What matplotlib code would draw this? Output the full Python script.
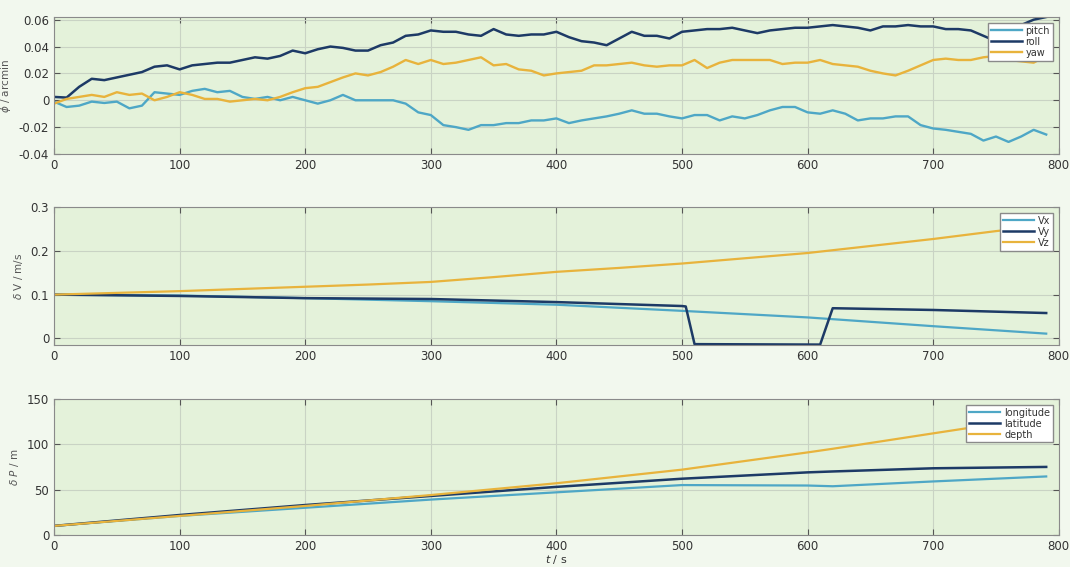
import matplotlib.pyplot as plt

plt.rcParams['axes.unicode_minus'] = False
plt.rcParams['font.family'] = 'DejaVu Sans'

# ---- attitude error (arcmin), sampled every 10 s ----
t_att = list(range(0, 800, 10))
pitch = [-0.001, -0.005, -0.004, -0.001, -0.002, -0.001, -0.006, -0.004, 0.006, 0.005,
         0.004, 0.007, 0.0085, 0.006, 0.007, 0.0025, 0.001, 0.0025, 0.0, 0.0025,
         0.0, -0.0025, 0.0, 0.004, 0.0, 0.0, 0.0, 0.0, -0.0025, -0.009,
         -0.011, -0.0185, -0.02, -0.022, -0.0185, -0.0185, -0.017, -0.017, -0.015, -0.015,
         -0.0135, -0.017, -0.015, -0.0135, -0.012, -0.01, -0.0075, -0.01, -0.01, -0.012,
         -0.0135, -0.011, -0.011, -0.015, -0.012, -0.0135, -0.011, -0.0075, -0.005, -0.005,
         -0.009, -0.01, -0.0075, -0.01, -0.015, -0.0135, -0.0135, -0.012, -0.012, -0.0185,
         -0.021, -0.022, -0.0235, -0.025, -0.03, -0.027, -0.031, -0.027, -0.022, -0.0255]
roll = [0.0025, 0.002, 0.01, 0.016, 0.015, 0.017, 0.019, 0.021, 0.025, 0.026,
        0.023, 0.026, 0.027, 0.028, 0.028, 0.03, 0.032, 0.031, 0.033, 0.037,
        0.035, 0.038, 0.04, 0.039, 0.037, 0.037, 0.041, 0.043, 0.048, 0.049,
        0.052, 0.051, 0.051, 0.049, 0.048, 0.053, 0.049, 0.048, 0.049, 0.049,
        0.051, 0.047, 0.044, 0.043, 0.041, 0.046, 0.051, 0.048, 0.048, 0.046,
        0.051, 0.052, 0.053, 0.053, 0.054, 0.052, 0.05, 0.052, 0.053, 0.054,
        0.054, 0.055, 0.056, 0.055, 0.054, 0.052, 0.055, 0.055, 0.056, 0.055,
        0.055, 0.053, 0.053, 0.052, 0.048, 0.044, 0.046, 0.056, 0.06, 0.062]
yaw = [-0.0025, 0.001, 0.0025, 0.004, 0.0025, 0.006, 0.004, 0.005, 0.0, 0.0025,
       0.006, 0.004, 0.001, 0.001, -0.001, 0.0, 0.001, 0.0, 0.0025, 0.006,
       0.009, 0.01, 0.0135, 0.017, 0.02, 0.0185, 0.021, 0.025, 0.03, 0.027,
       0.03, 0.027, 0.028, 0.03, 0.032, 0.026, 0.027, 0.023, 0.022, 0.0185,
       0.02, 0.021, 0.022, 0.026, 0.026, 0.027, 0.028, 0.026, 0.025, 0.026,
       0.026, 0.03, 0.024, 0.028, 0.03, 0.03, 0.03, 0.03, 0.027, 0.028,
       0.028, 0.03, 0.027, 0.026, 0.025, 0.022, 0.02, 0.0185, 0.022, 0.026,
       0.03, 0.031, 0.03, 0.03, 0.032, 0.033, 0.03, 0.029, 0.028, 0.033]

# ---- velocity error (m/s) ----
t_vx = [0, 100, 200, 300, 400, 500, 600, 700, 790]
vx = [0.1, 0.098, 0.092, 0.085, 0.077, 0.063, 0.048, 0.028, 0.011]
t_vy = [0, 100, 200, 300, 400, 500, 503, 510, 610, 620, 700, 790]
vy = [0.1, 0.097, 0.092, 0.09, 0.083, 0.074, 0.073, -0.013, -0.014, 0.069, 0.065, 0.058]
t_vz = [0, 50, 100, 150, 200, 250, 300, 350, 400, 450, 500, 550, 600, 650, 700, 750, 790]
vz = [0.1, 0.104, 0.108, 0.113, 0.118, 0.123, 0.129, 0.14, 0.152, 0.161, 0.171,
      0.183, 0.195, 0.211, 0.227, 0.245, 0.258]

# ---- position error (m) ----
t_pos = [0, 100, 200, 300, 400, 500, 600, 620, 700, 790]
longitude = [10, 21, 30, 39, 47, 55, 54.5, 53.7, 59, 64.5]
latitude = [10, 22, 33, 43, 53, 62, 69, 70, 73.5, 75]
depth = [10, 21, 32, 44, 57, 72, 91, 95, 112, 131]

c_light = '#4ea7c6'
c_dark = '#1d3a66'
c_gold = '#e8b33c'
fig_bg = '#f2f8ee'
ax_bg = '#e4f2da'

fig = plt.figure(figsize=(10.7, 5.67), dpi=100, facecolor=fig_bg)
ax1 = fig.add_axes([0.0505, 0.7284, 0.939, 0.2416])
ax2 = fig.add_axes([0.0505, 0.3915, 0.939, 0.2434])
ax3 = fig.add_axes([0.0505, 0.0565, 0.939, 0.2400])


def style(ax, yticks, ylabels):
    ax.set_facecolor(ax_bg)
    ax.set_xlim(0, 800)
    ax.set_xticks(range(0, 900, 100))
    ax.set_yticks(yticks)
    ax.set_yticklabels(ylabels)
    ax.grid(True, color='#c9d3c4', linewidth=0.8)
    ax.set_axisbelow(True)
    ax.tick_params(direction='in', top=True, right=True, labelsize=8.5,
                   colors='#555555', length=4, labelcolor='#333333')
    for s in ax.spines.values():
        s.set_color('#8a8a8a')


ax1.plot(t_att, pitch, color=c_light, lw=1.7, label='pitch')
ax1.plot(t_att, roll, color=c_dark, lw=1.8, label='roll')
ax1.plot(t_att, yaw, color=c_gold, lw=1.7, label='yaw')
ax1.set_ylim(-0.04, 0.062)
style(ax1, [-0.04, -0.02, 0, 0.02, 0.04, 0.06], ['-0.04', '-0.02', '0', '0.02', '0.04', '0.06'])
ax1.set_ylabel(r'$\phi$ / arcmin', fontsize=7.5, color='#555555')

ax2.plot(t_vx, vx, color=c_light, lw=1.6, label='Vx')
ax2.plot(t_vy, vy, color=c_dark, lw=1.8, label='Vy')
ax2.plot(t_vz, vz, color=c_gold, lw=1.6, label='Vz')
ax2.set_ylim(-0.015, 0.3)
style(ax2, [0, 0.1, 0.2, 0.3], ['0', '0.1', '0.2', '0.3'])
ax2.set_ylabel(r'$\delta$ V / m/s', fontsize=7.5, color='#555555')

ax3.plot(t_pos, longitude, color=c_light, lw=1.6, label='longitude')
ax3.plot(t_pos, latitude, color=c_dark, lw=1.8, label='latitude')
ax3.plot(t_pos, depth, color=c_gold, lw=1.6, label='depth')
ax3.set_ylim(0, 150)
style(ax3, [0, 50, 100, 150], ['0', '50', '100', '150'])
ax3.set_ylabel(r'$\delta\ P$ / m', fontsize=7.5, color='#555555')
ax3.set_xlabel(r'$t$ / s', fontsize=8, color='#333333', labelpad=0)

for ax in (ax1, ax2, ax3):
    leg = ax.legend(loc='upper right', fontsize=7, frameon=True, fancybox=False,
                    handlelength=3.2, borderpad=0.3, labelspacing=0.1,
                    handletextpad=0.4, borderaxespad=0.6)
    leg.get_frame().set_facecolor('white')
    leg.get_frame().set_edgecolor('#8a8a8a')
    leg.get_frame().set_alpha(1)
    for txt in leg.get_texts():
        txt.set_color('#333333')

fig.savefig('out.png', dpi=100, facecolor=fig_bg)
